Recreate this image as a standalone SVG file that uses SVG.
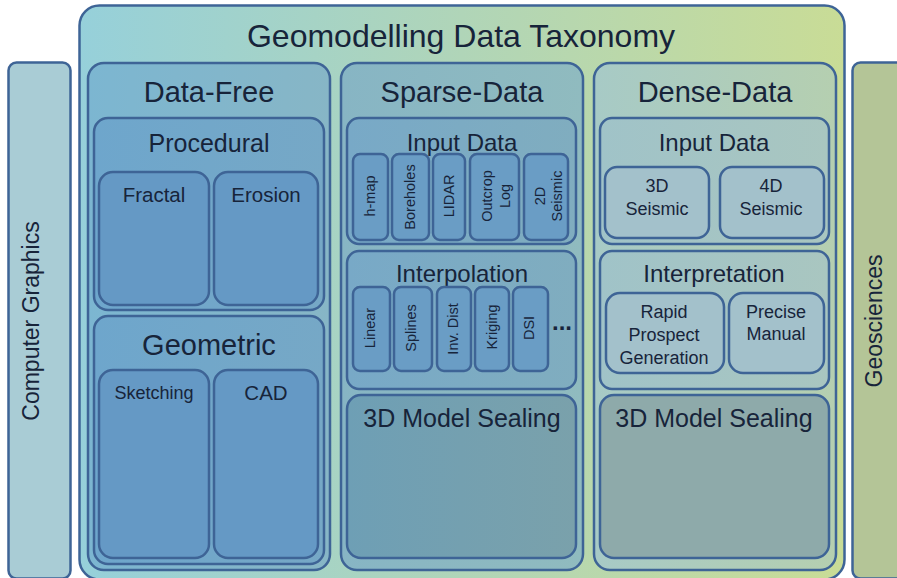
<svg xmlns="http://www.w3.org/2000/svg" width="897" height="578" viewBox="0 0 897 578">
<defs>
<linearGradient id="gOuter" x1="0" y1="0" x2="1" y2="0">
<stop offset="0" stop-color="#96d0da"/><stop offset="0.5" stop-color="#b0d5b8"/><stop offset="1" stop-color="#c9dc96"/>
</linearGradient>
<linearGradient id="gFree" x1="0" y1="0" x2="1" y2="0">
<stop offset="0" stop-color="#7cb6d1"/><stop offset="1" stop-color="#87b6c6"/>
</linearGradient>
<linearGradient id="gProc" x1="0" y1="0" x2="1" y2="0">
<stop offset="0" stop-color="#6ea6cc"/><stop offset="1" stop-color="#76a8c6"/>
</linearGradient>
<linearGradient id="gSparse" x1="0" y1="0" x2="1" y2="0">
<stop offset="0" stop-color="#87b5c4"/><stop offset="1" stop-color="#90bbbf"/>
</linearGradient>
<linearGradient id="gSparseIn" x1="0" y1="0" x2="1" y2="0">
<stop offset="0" stop-color="#78a9c7"/><stop offset="1" stop-color="#80adbf"/>
</linearGradient>
<linearGradient id="gSparseSeal" x1="0" y1="0" x2="1" y2="0">
<stop offset="0" stop-color="#6e9fb5"/><stop offset="1" stop-color="#7aa1ab"/>
</linearGradient>
<linearGradient id="gDense" x1="0" y1="0" x2="1" y2="0">
<stop offset="0" stop-color="#a7cac6"/><stop offset="1" stop-color="#b5cfb0"/>
</linearGradient>
<linearGradient id="gDenseIn" x1="0" y1="0" x2="1" y2="0">
<stop offset="0" stop-color="#a0c3c8"/><stop offset="1" stop-color="#a9c6c0"/>
</linearGradient>
</defs>
<style>
rect{stroke:#3e6496;stroke-width:2.5}
text{font-family:"Liberation Sans",Arial,sans-serif;fill:#17243a;text-anchor:middle}
.small{fill:#6a9dc5}
.dsmall{fill:#a3c1cb}
.t32{font-size:32px}.t29{font-size:29px}.t25{font-size:25px}.t24{font-size:24px}.t20{font-size:20.5px}.t18{font-size:18px}.t14{font-size:14.5px}.t23{font-size:23px}
</style>

<g id="computer-graphics">
<rect x="8.5" y="62.5" width="62" height="516" rx="8" fill="#a9ccd5"/>
<text class="t23" transform="translate(31,321) rotate(-90)" y="8">Computer Graphics</text>
</g>
<g id="geosciences">
<rect x="852.5" y="62.5" width="62" height="516" rx="8" fill="#b4c597"/>
<text class="t23" transform="translate(874,321) rotate(-90)" y="8">Geosciences</text>
</g>

<g id="taxonomy">
<rect x="79.5" y="5.5" width="765" height="574" rx="20" fill="url(#gOuter)"/>
<text class="t32" x="461" y="47">Geomodelling Data Taxonomy</text>
</g>

<g id="data-free">
<rect x="88" y="63" width="242" height="507" rx="16" fill="url(#gFree)"/>
<text class="t29" x="209" y="102">Data-Free</text>
</g>
<g id="procedural">
<rect x="94" y="118" width="230" height="192" rx="14" fill="url(#gProc)"/>
<text class="t25" x="209" y="152">Procedural</text>
</g>
<g id="fractal">
<rect x="99" y="172" width="110" height="133" rx="14" fill="#6599c5"/>
<text class="t20" x="154" y="202">Fractal</text>
</g>
<g id="erosion">
<rect x="214" y="172" width="104" height="133" rx="14" fill="#6599c5"/>
<text class="t20" x="266" y="202">Erosion</text>
</g>
<g id="geometric">
<rect x="94" y="316" width="230" height="248" rx="14" fill="url(#gProc)"/>
<text class="t29" x="209" y="355">Geometric</text>
</g>
<g id="sketching">
<rect x="99" y="370" width="110" height="188" rx="14" fill="#6599c5"/>
<text class="t18" x="154" y="399">Sketching</text>
</g>
<g id="cad">
<rect x="214" y="370" width="104" height="188" rx="14" fill="#6599c5"/>
<text class="t20" x="266" y="400">CAD</text>
</g>

<g id="sparse-data">
<rect x="341" y="63" width="242" height="507" rx="16" fill="url(#gSparse)"/>
<text class="t29" x="462" y="102">Sparse-Data</text>
</g>
<g id="sparse-input">
<rect x="347" y="118" width="229" height="126" rx="12" fill="url(#gSparseIn)"/>
<text class="t24" x="462" y="151">Input Data</text>
</g>
<g id="h-map">
<rect class="small" x="353" y="154" width="35" height="86" rx="7"/>
<text class="t14" transform="translate(370,196) rotate(-90)" y="5">h-map</text>
</g>
<g id="boreholes">
<rect class="small" x="392" y="154" width="37" height="86" rx="7"/>
<text class="t14" transform="translate(410,197) rotate(-90)" y="5">Boreholes</text>
</g>
<g id="lidar">
<rect class="small" x="433" y="154" width="32" height="86" rx="7"/>
<text class="t14" transform="translate(449,196) rotate(-90)" y="5">LIDAR</text>
</g>
<g id="outcrop-log">
<rect class="small" x="470" y="154" width="49" height="86" rx="7"/>
<text class="t14" transform="translate(497,196) rotate(-90)"><tspan x="0" y="-5">Outcrop</tspan><tspan x="0" y="13">Log</tspan></text>
</g>
<g id="seismic-2d">
<rect class="small" x="524" y="154" width="44" height="86" rx="7"/>
<text class="t14" transform="translate(549,196) rotate(-90)"><tspan x="0" y="-4">2D</tspan><tspan x="0" y="13">Seismic</tspan></text>
</g>
<g id="interpolation">
<rect x="347" y="251" width="229" height="138" rx="12" fill="url(#gSparseIn)"/>
<text class="t24" x="462" y="282">Interpolation</text>
<text x="562" y="330" style="font-size:24px;font-weight:bold">...</text>
</g>
<g id="linear">
<rect class="small" x="353" y="287" width="37" height="84" rx="7"/>
<text class="t14" transform="translate(370,328) rotate(-90)" y="5">Linear</text>
</g>
<g id="splines">
<rect class="small" x="394" y="287" width="38" height="84" rx="7"/>
<text class="t14" transform="translate(411,328) rotate(-90)" y="5">Splines</text>
</g>
<g id="inv-dist">
<rect class="small" x="437" y="287" width="34" height="84" rx="7"/>
<text class="t14" transform="translate(453,329) rotate(-90)" y="5">Inv. Dist</text>
</g>
<g id="kriging">
<rect class="small" x="475" y="287" width="34" height="84" rx="7"/>
<text class="t14" transform="translate(492,327) rotate(-90)" y="5">Kriging</text>
</g>
<g id="dsi">
<rect class="small" x="513" y="287" width="35" height="84" rx="7"/>
<text class="t14" transform="translate(529,328) rotate(-90)" y="5">DSI</text>
</g>
<g id="sparse-sealing">
<rect x="347" y="395" width="229" height="163" rx="14" fill="url(#gSparseSeal)"/>
<text class="t25" x="462" y="427">3D Model Sealing</text>
</g>

<g id="dense-data">
<rect x="594" y="63" width="242" height="507" rx="16" fill="url(#gDense)"/>
<text class="t29" x="715" y="102">Dense-Data</text>
</g>
<g id="dense-input">
<rect x="600" y="118" width="229" height="126" rx="12" fill="url(#gDenseIn)"/>
<text class="t24" x="714" y="151">Input Data</text>
</g>
<g id="seismic-3d">
<rect class="dsmall" x="605" y="167" width="104" height="71" rx="12"/>
<text class="t18"><tspan x="657" y="192">3D</tspan><tspan x="657" y="215">Seismic</tspan></text>
</g>
<g id="seismic-4d">
<rect class="dsmall" x="720" y="167" width="104" height="71" rx="12"/>
<text class="t18"><tspan x="771" y="192">4D</tspan><tspan x="771" y="215">Seismic</tspan></text>
</g>
<g id="interpretation">
<rect x="600" y="251" width="229" height="138" rx="12" fill="url(#gDenseIn)"/>
<text class="t24" x="714" y="282">Interpretation</text>
</g>
<g id="rapid">
<rect class="dsmall" x="606" y="293" width="118" height="80" rx="14"/>
<text class="t18"><tspan x="664" y="318">Rapid</tspan><tspan x="664" y="341">Prospect</tspan><tspan x="664" y="364">Generation</tspan></text>
</g>
<g id="precise">
<rect class="dsmall" x="729" y="293" width="95" height="80" rx="14"/>
<text class="t18"><tspan x="776" y="318">Precise</tspan><tspan x="776" y="340">Manual</tspan></text>
</g>
<g id="dense-sealing">
<rect x="600" y="395" width="229" height="163" rx="14" fill="#8eaaaa"/>
<text class="t25" x="714" y="427">3D Model Sealing</text>
</g>

<g id="connectors"></g>
</svg>
